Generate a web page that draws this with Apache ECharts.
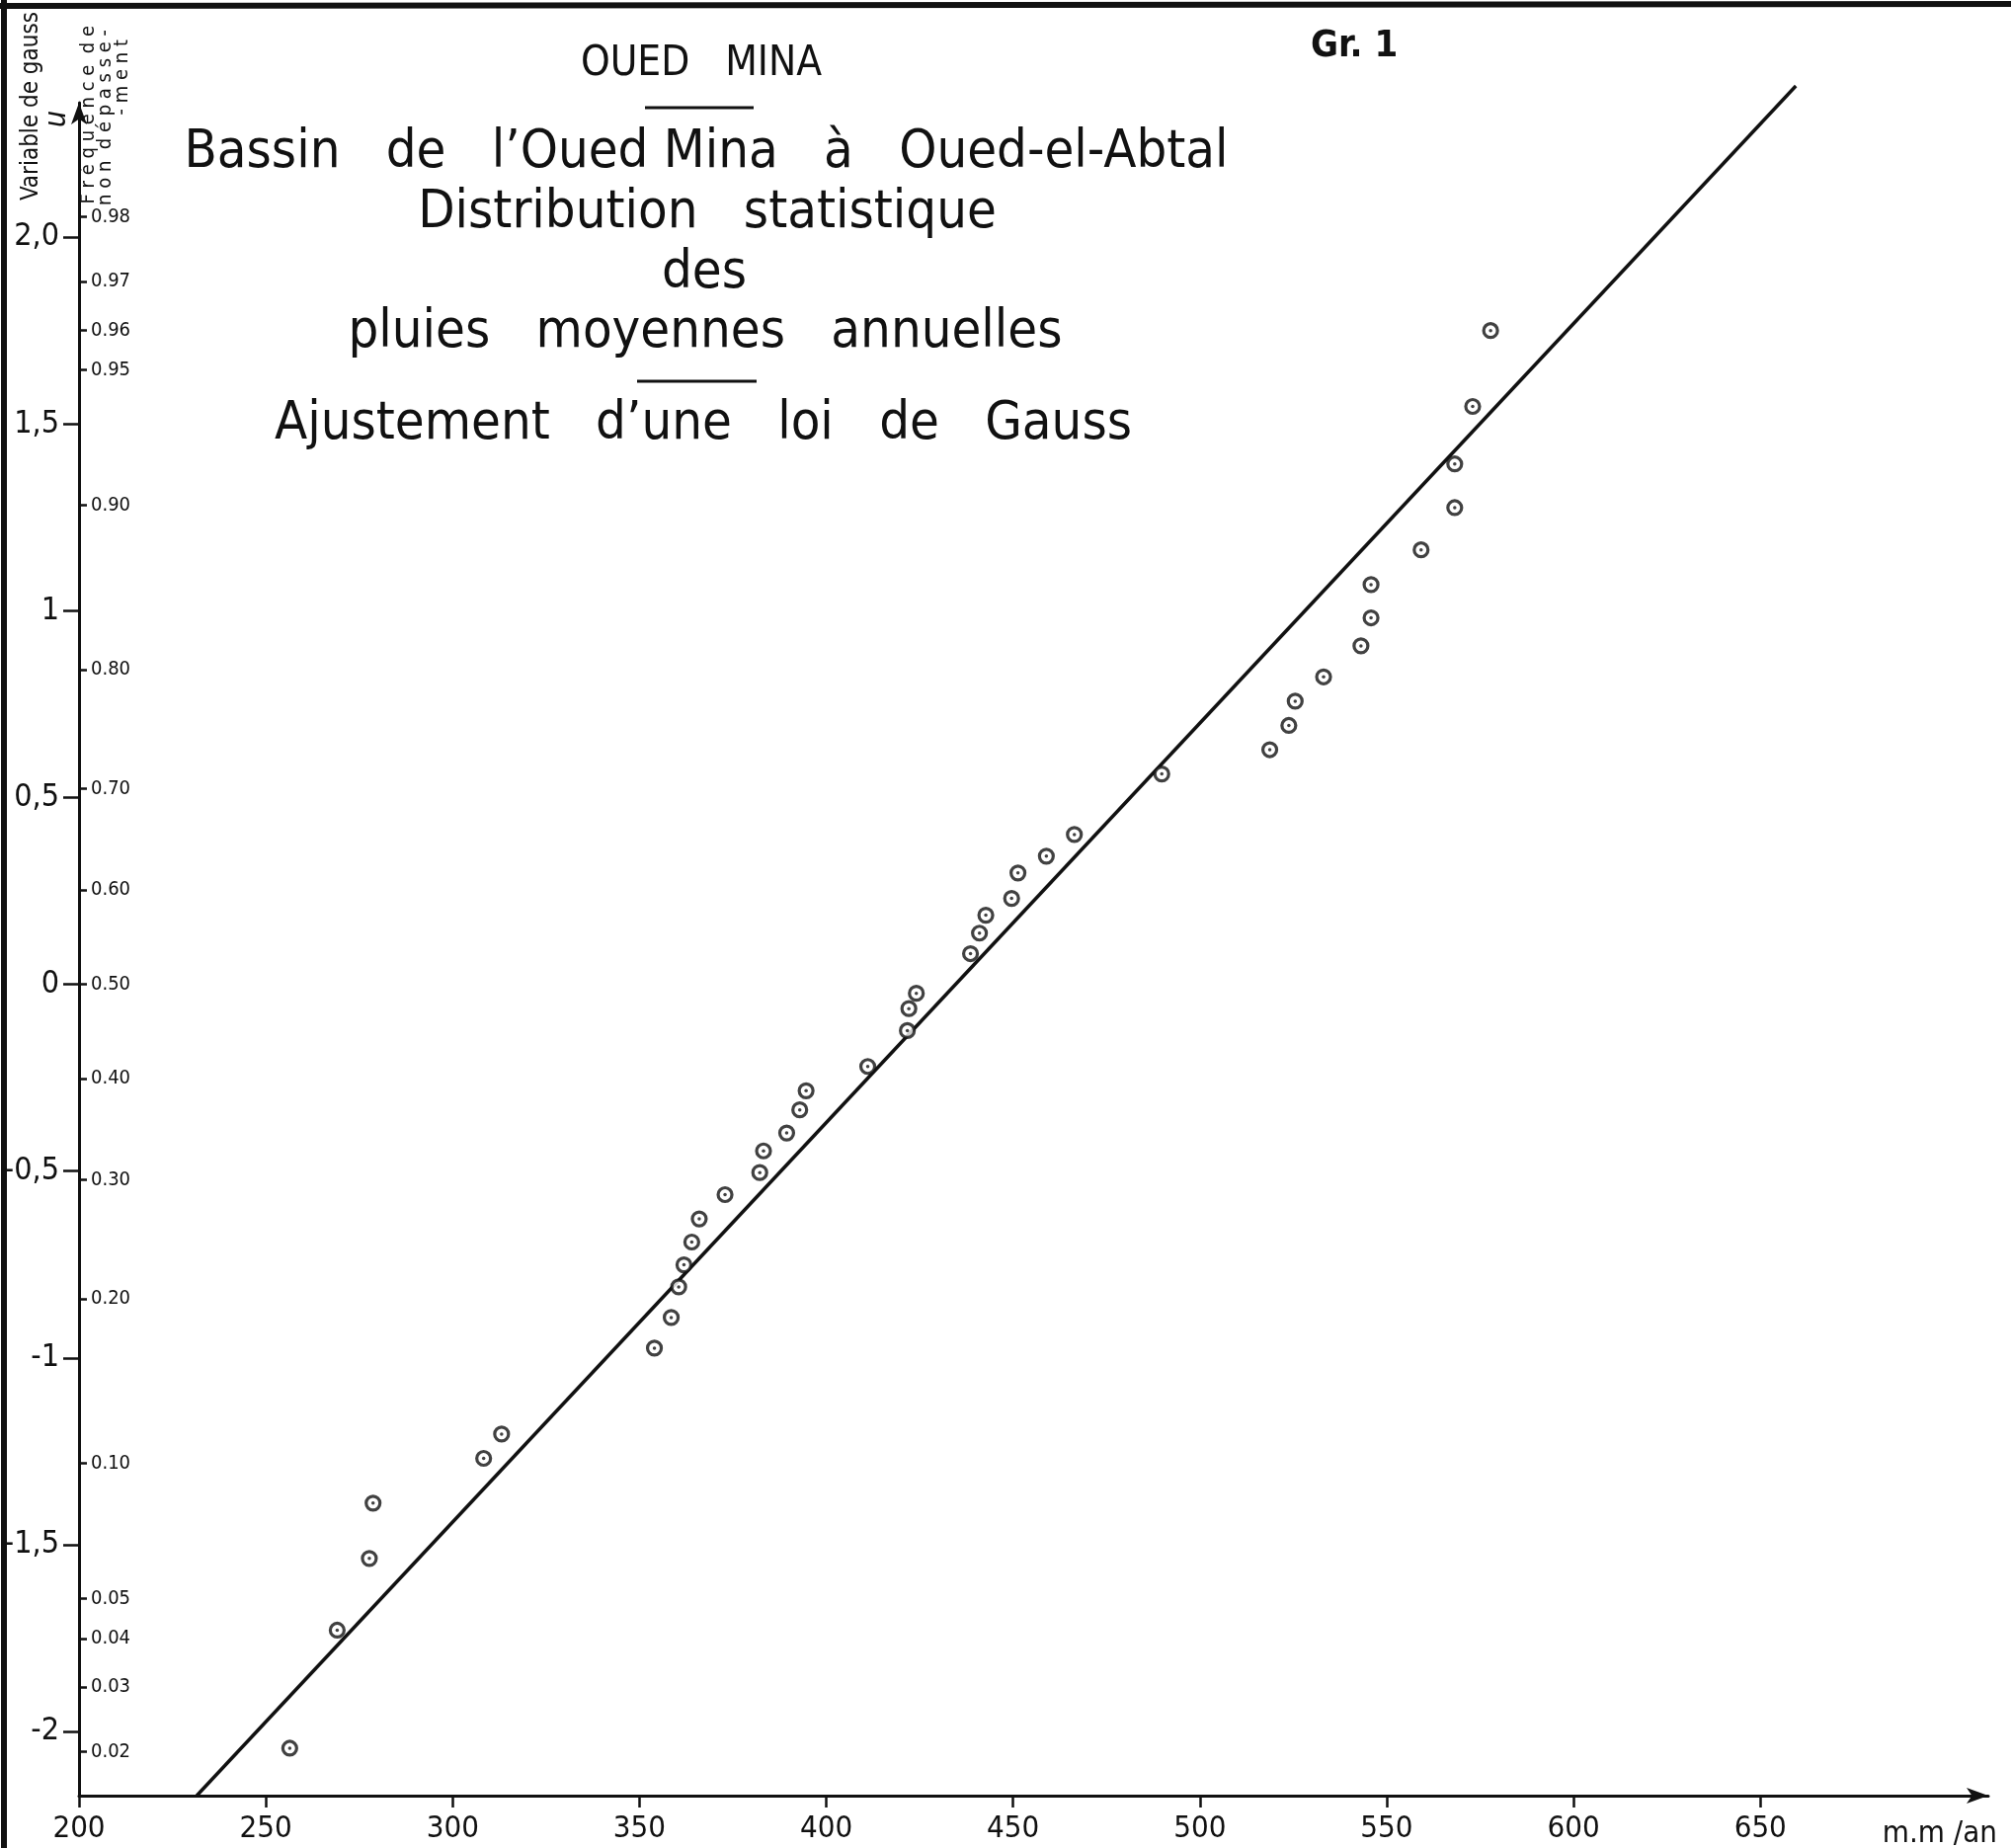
<!DOCTYPE html>
<html>
<head>
<meta charset="utf-8">
<title>Oued Mina - Gr. 1</title>
<script src="https://cdn.jsdelivr.net/npm/echarts@6/dist/echarts.min.js"></script>
<style>
  html, body { margin: 0; padding: 0; background: #fff; }
  #chart { width: 2036px; height: 1871px; }
</style>
</head>
<body>
<div id="chart"></div>
<script>
// annual rainfall (mm/an) and gauss variable u of each year
var rain = [256.4, 269.1, 277.7, 278.7, 308.3, 313.1, 354.0, 358.5, 360.5, 361.9,
  364.0, 366.0, 372.9, 382.2, 383.2, 389.4, 392.9, 394.6, 411.1, 421.7,
  422.1, 424.1, 438.6, 441.0, 442.7, 449.6, 451.3, 458.9, 466.4, 489.8,
  518.7, 523.8, 525.5, 533.1, 543.1, 545.8, 545.8, 559.2, 568.2, 568.2,
  573.0, 577.8];
var gaussU = [-2.045, -1.729, -1.537, -1.389, -1.269, -1.204, -0.974, -0.892, -0.810, -0.751,
  -0.690, -0.628, -0.563, -0.504, -0.446, -0.398, -0.336, -0.285, -0.220, -0.124,
  -0.065, -0.024, 0.082, 0.137, 0.185, 0.230, 0.298, 0.343, 0.401, 0.563,
  0.628, 0.693, 0.758, 0.823, 0.906, 0.981, 1.070, 1.163, 1.276, 1.393,
  1.547, 1.750];

// fitted gauss law, ends of the drawn line
var fitRain = [231.5, 659.5];
var fitU = [-2.172, 2.405];

// tick labels
var xTicks = [200, 250, 300, 350, 400, 450, 500, 550, 600, 650];
var uTicks = [-2, -1.5, -1, -0.5, 0, 0.5, 1, 1.5, 2];
var uLabels = ['-2', '-1,5', '-1', '-0,5', '0', '0,5', '1', '1,5', '2,0'];
var freqLabels = ['0.02', '0.03', '0.04', '0.05', '0.10', '0.20', '0.30', '0.40', '0.50',
  '0.60', '0.70', '0.80', '0.90', '0.95', '0.96', '0.97', '0.98'];
var freqU = [-2.054, -1.881, -1.751, -1.645, -1.282, -0.842, -0.524, -0.253, 0,
  0.253, 0.524, 0.842, 1.282, 1.645, 1.751, 1.881, 2.054];

var points = rain.map(function (r, i) { return [r, gaussU[i]]; });
var fitLine = fitRain.map(function (r, i) { return [r, fitU[i]]; });

var font = "'Liberation Sans Narrow', 'DejaVu Sans Condensed', 'DejaVu Sans', sans-serif";
var ink = '#111';

function nearestLabel(v, values, labels) {
  var best = 0;
  for (var i = 1; i < values.length; i++) {
    if (Math.abs(values[i] - v) < Math.abs(values[best] - v)) best = i;
  }
  return labels[best];
}

function titleText(text, x, y, size) {
  return {
    type: 'text', x: x, y: y,
    style: { text: text, font: size + 'px ' + font, fill: ink, align: 'center', verticalAlign: 'middle' }
  };
}

function sideText(text, x, y, size, extra) {
  return {
    type: 'text', x: x, y: y, rotation: Math.PI / 2,
    style: { text: text, font: (extra || '') + size + 'px ' + font, fill: ink, align: 'right', verticalAlign: 'middle' }
  };
}

var chart = echarts.init(document.getElementById('chart'));

var option = {
  animation: false,
  backgroundColor: '#fff',
  grid: { left: 80, right: 23, top: 104, bottom: 53 },
  xAxis: {
    type: 'value',
    min: 200,
    max: 711,
    splitLine: { show: false },
    axisLine: { onZero: false, lineStyle: { color: ink, width: 3 }, symbol: ['none', 'arrow'], symbolSize: [12, 22] },
    axisTick: { customValues: xTicks, length: 12, lineStyle: { color: ink, width: 2.5 } },
    axisLabel: { customValues: xTicks, margin: 18, fontSize: 31, color: ink, fontFamily: font }
  },
  yAxis: [
    {
      type: 'value',
      min: -2.172,
      max: 2.36,
      splitLine: { show: false },
      axisLine: { onZero: false, lineStyle: { color: ink, width: 3 }, symbol: ['none', 'arrow'], symbolSize: [12, 22] },
      axisTick: { customValues: uTicks, length: 16, lineStyle: { color: ink, width: 2.5 } },
      axisLabel: {
        customValues: uTicks, margin: 20, fontSize: 32, color: ink, fontFamily: font,
        formatter: function (v) { return nearestLabel(v, uTicks, uLabels); }
      }
    },
    {
      type: 'value',
      position: 'left',
      min: -2.172,
      max: 2.36,
      splitLine: { show: false },
      axisLine: { show: false, onZero: false },
      axisTick: { inside: true, customValues: freqU, length: 8, lineStyle: { color: ink, width: 2.5 } },
      axisLabel: {
        inside: true, customValues: freqU, margin: 12, fontSize: 20, color: ink, fontFamily: font,
        formatter: function (v) { return nearestLabel(v, freqU, freqLabels); }
      }
    }
  ],
  graphic: [
    // frame of the sheet
    { type: 'line', shape: { x1: 0, y1: 6, x2: 2036, y2: 4 }, style: { stroke: ink, lineWidth: 6 } },
    { type: 'line', shape: { x1: 4, y1: 0, x2: 4, y2: 1871 }, style: { stroke: ink, lineWidth: 6 } },
    titleText('OUED   MINA', 710, 65, 42),
    { type: 'line', shape: { x1: 653, y1: 109, x2: 763, y2: 109 }, style: { stroke: ink, lineWidth: 3 } },
    titleText('Bassin   de   l\u2019Oued Mina   \u00e0   Oued-el-Abtal', 715, 155, 54),
    titleText('Distribution   statistique', 716, 216, 54),
    titleText('des', 713, 277, 54),
    titleText('pluies   moyennes   annuelles', 714, 337, 54),
    { type: 'line', shape: { x1: 645, y1: 386, x2: 766, y2: 386 }, style: { stroke: ink, lineWidth: 3 } },
    titleText('Ajustement   d\u2019une   loi   de   Gauss', 712, 430, 54),
    {
      type: 'text', x: 1327, y: 47,
      style: { text: 'Gr. 1', font: '600 38px ' + font, fill: ink, align: 'left', verticalAlign: 'middle' }
    },
    sideText('Variable de gauss', 32, 12, 24),
    sideText('u', 58, 112, 30, 'italic '),
    sideText('F r \u00e9 q u e n c e  d e', 90, 26, 20),
    sideText('n o n  d \u00e9 p a s s e -', 107, 30, 20),
    sideText('- m e n t', 124, 40, 20),
    {
      type: 'text', x: 2022, y: 1857,
      style: { text: 'm.m /an', font: '31px ' + font, fill: ink, align: 'right', verticalAlign: 'middle' }
    }
  ],
  series: [
    {
      name: 'ajustement',
      type: 'line',
      data: fitLine,
      symbol: 'none',
      clip: false,
      lineStyle: { color: ink, width: 3.5 },
      z: 2
    },
    {
      name: 'pluies',
      type: 'scatter',
      data: points,
      symbol: 'circle',
      symbolSize: 14,
      itemStyle: { color: '#fff', borderColor: ink, borderWidth: 3.2 },
      z: 3
    },
    {
      name: 'centres',
      type: 'scatter',
      data: points,
      symbol: 'circle',
      symbolSize: 3.5,
      itemStyle: { color: ink },
      z: 4
    }
  ]
};

chart.setOption(option);
</script>
</body>
</html>
